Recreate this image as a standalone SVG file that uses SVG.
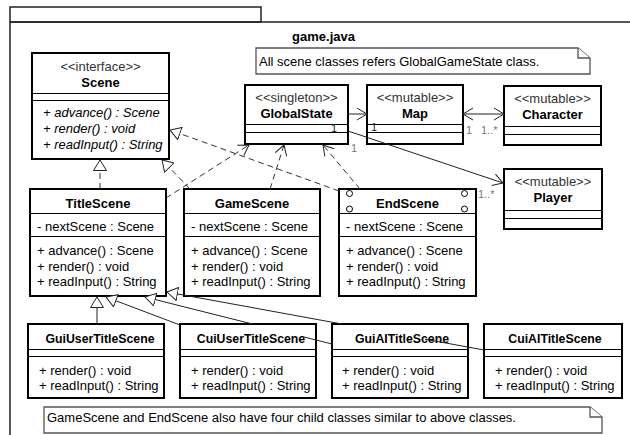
<svg xmlns="http://www.w3.org/2000/svg" width="630" height="435" viewBox="0 0 630 435">
<style>
.bg{fill:#fff}
.frame{fill:none;stroke:#222;stroke-width:1.5}
.box{fill:#fff;stroke:#000;stroke-width:2}
.sep{stroke:#000;stroke-width:1;fill:none}
.note{fill:#fff;stroke:#555;stroke-width:1.3}
.t{font-family:"Liberation Sans",Arial,sans-serif;font-size:13px;fill:#000}
.b{font-weight:bold}
.c{text-anchor:middle}
.i{font-style:italic}
.st{fill:#333}
.sm{font-size:12.3px}
.m{font-family:"Liberation Sans",Arial,sans-serif;font-size:11px;fill:#777}
.md{fill:#222}
.dash{stroke:#333;stroke-width:1;fill:none;stroke-dasharray:6 4}
.solid{stroke:#222;stroke-width:1;fill:none}
.dot{fill:#fff;stroke:#000;stroke-width:1}
</style>
<defs>
<marker id="tri" markerUnits="userSpaceOnUse" markerWidth="12" markerHeight="14" viewBox="0 0 12 14" refX="11" refY="7" orient="auto">
<path d="M0.5,0.5 L11,7 L0.5,13.5 Z" fill="#fff" stroke="#222" stroke-width="1" stroke-dasharray="none"/>
</marker>
<marker id="open" markerUnits="userSpaceOnUse" markerWidth="12" markerHeight="14" viewBox="0 0 12 14" refX="11" refY="7" orient="auto-start-reverse">
<path d="M1,1 L11,7 L1,13" fill="none" stroke="#222" stroke-width="1" stroke-dasharray="none"/>
</marker>
</defs>
<rect class="bg" x="0" y="0" width="630" height="435"/>

<g id="package">
<rect class="frame" x="10" y="7" width="251" height="15"/>
<path class="frame" d="M10,22 H640 M10,22 V445"/>
<text class="t b c" x="323.5" y="41">game.java</text>
</g>

<g id="note-top">
<path class="note" d="M256,48 H578 L590,58 V74 H256 Z"/>
<path class="note" d="M578,48 V58 H590" fill="none"/>
<text class="t" x="259" y="66">All scene classes refers GlobalGameState class.</text>
</g>

<g id="Scene">
<rect class="box" x="32" y="53" width="137" height="106"/>
<text class="t c st" x="100.5" y="71">&lt;&lt;interface&gt;&gt;</text>
<text class="t b c" x="100.5" y="87">Scene</text>
<path class="sep" d="M32,93.5 H169 M32,100.5 H169"/>
<text class="t i" x="43" y="117">+ advance() : Scene</text>
<text class="t i" x="43" y="133">+ render() : void</text>
<text class="t i" x="43" y="149">+ readInput() : String</text>
</g>

<g id="GlobalState">
<rect class="box" x="245" y="85" width="103" height="59"/>
<text class="t c st" x="296.5" y="102">&lt;&lt;singleton&gt;&gt;</text>
<text class="t b c" x="296.5" y="118">GlobalState</text>
<path class="sep" d="M245,124.5 H348 M245,132.5 H348"/>
</g>

<g id="Map">
<rect class="box" x="367" y="85" width="96" height="59"/>
<text class="t c st" x="415" y="102">&lt;&lt;mutable&gt;&gt;</text>
<text class="t b c" x="415" y="118">Map</text>
<path class="sep" d="M367,124.5 H463 M367,132.5 H463"/>
</g>

<g id="Character">
<rect class="box" x="504" y="86" width="97" height="59"/>
<text class="t c st" x="552.5" y="103">&lt;&lt;mutable&gt;&gt;</text>
<text class="t b c" x="552.5" y="119">Character</text>
<path class="sep" d="M504,126.5 H601 M504,134.5 H601"/>
</g>

<g id="Player">
<rect class="box" x="504" y="169" width="98" height="60"/>
<text class="t c st" x="553" y="186">&lt;&lt;mutable&gt;&gt;</text>
<text class="t b c" x="553" y="202">Player</text>
<path class="sep" d="M504,210.5 H602 M504,218.5 H602"/>
</g>

<g id="TitleScene">
<rect class="box" x="30" y="189" width="136" height="107"/>
<text class="t b c" x="98" y="208">TitleScene</text>
<path class="sep" d="M30,213.5 H166 M30,236.5 H166"/>
<text class="t" x="37" y="231">- nextScene : Scene</text>
<text class="t" x="37" y="255">+ advance() : Scene</text>
<text class="t" x="37" y="271">+ render() : void</text>
<text class="t" x="37" y="286">+ readInput() : String</text>
</g>

<g id="GameScene">
<rect class="box" x="184" y="189" width="136" height="107"/>
<text class="t b c" x="252" y="208">GameScene</text>
<path class="sep" d="M184,213.5 H320 M184,236.5 H320"/>
<text class="t" x="191" y="231">- nextScene : Scene</text>
<text class="t" x="191" y="255">+ advance() : Scene</text>
<text class="t" x="191" y="271">+ render() : void</text>
<text class="t" x="191" y="286">+ readInput() : String</text>
</g>

<g id="EndScene">
<rect class="box" x="339" y="189" width="137" height="107"/>
<circle class="dot" cx="349.5" cy="193.5" r="3"/>
<circle class="dot" cx="349.5" cy="209" r="3"/>
<circle class="dot" cx="464.5" cy="193.5" r="3"/>
<circle class="dot" cx="464.5" cy="209" r="3"/>
<text class="t b c" x="407.5" y="208">EndScene</text>
<path class="sep" d="M339,213.5 H476 M339,236.5 H476"/>
<text class="t" x="346" y="231">- nextScene : Scene</text>
<text class="t" x="346" y="255">+ advance() : Scene</text>
<text class="t" x="346" y="271">+ render() : void</text>
<text class="t" x="346" y="286">+ readInput() : String</text>
</g>

<g id="GuiUserTitleScene">
<rect class="box" x="28" y="324" width="136" height="74"/>
<text class="t b c sm" x="100" y="343">GuiUserTitleScene</text>
<path class="sep" d="M28,349.5 H164 M28,356.5 H164"/>
<text class="t" x="39" y="374.5">+ render() : void</text>
<text class="t" x="39" y="390">+ readInput() : String</text>
</g>

<g id="CuiUserTitleScene">
<rect class="box" x="180" y="324" width="136" height="74"/>
<text class="t b c sm" x="251" y="343">CuiUserTitleScene</text>
<path class="sep" d="M180,349.5 H316 M180,356.5 H316"/>
<text class="t" x="191" y="374.5">+ render() : void</text>
<text class="t" x="191" y="390">+ readInput() : String</text>
</g>

<g id="GuiAITitleScene">
<rect class="box" x="332" y="324" width="136" height="74"/>
<text class="t b c sm" x="402" y="343">GuiAITitleScene</text>
<path class="sep" d="M332,349.5 H468 M332,356.5 H468"/>
<text class="t" x="342" y="374.5">+ render() : void</text>
<text class="t" x="342" y="390">+ readInput() : String</text>
</g>

<g id="CuiAITitleScene">
<rect class="box" x="484" y="324" width="138" height="74"/>
<text class="t b c sm" x="555" y="343">CuiAITitleScene</text>
<path class="sep" d="M484,349.5 H622 M484,356.5 H622"/>
<text class="t" x="495" y="374.5">+ render() : void</text>
<text class="t" x="495" y="390">+ readInput() : String</text>
</g>

<g id="note-bottom">
<path class="note" d="M44,407 H590 L602,417 V433 H44 Z"/>
<path class="note" d="M590,407 V417 H602" fill="none"/>
<text class="t" x="47" y="422">GameScene and EndScene also have four child classes similar to above classes.</text>
</g>

<g id="connectors">
<path class="dash" d="M100,189 L100,160" marker-end="url(#tri)"/>
<path class="dash" d="M190,189 L162,160" marker-end="url(#tri)"/>
<path class="dash" d="M339,191 L170,130" marker-end="url(#tri)"/>
<path class="dash" d="M166,198 L249,145" marker-end="url(#open)"/>
<path class="dash" d="M270,189 L284,145" marker-end="url(#open)"/>
<path class="dash" d="M360,189 L323,145" marker-end="url(#open)"/>
<path class="solid" d="M348,114 L367,114" marker-end="url(#open)"/>
<path class="solid" d="M463,114 L504,114" marker-start="url(#open)" marker-end="url(#open)"/>
<path class="solid" d="M348,131 L503,183" marker-end="url(#open)"/>
<path class="solid" d="M97,324 L97,297" marker-end="url(#tri)"/>
<path class="solid" d="M180,325 L106,297" marker-end="url(#tri)"/>
<path class="solid" d="M332,344 L302,336.5 M252.4,324 L145,297" marker-end="url(#tri)"/>
<path class="solid" d="M484,350 L425,339.2 M341.9,324 L167,292" marker-end="url(#tri)"/>
<text class="m md" x="331" y="132">1</text>
<text class="m md" x="371" y="131">1</text>
<text class="m" x="351" y="152">1</text>
<text class="m" x="466" y="134">1</text>
<text class="m" x="481" y="134">1..*</text>
<text class="m" x="478" y="198">1..*</text>
</g>
</svg>
